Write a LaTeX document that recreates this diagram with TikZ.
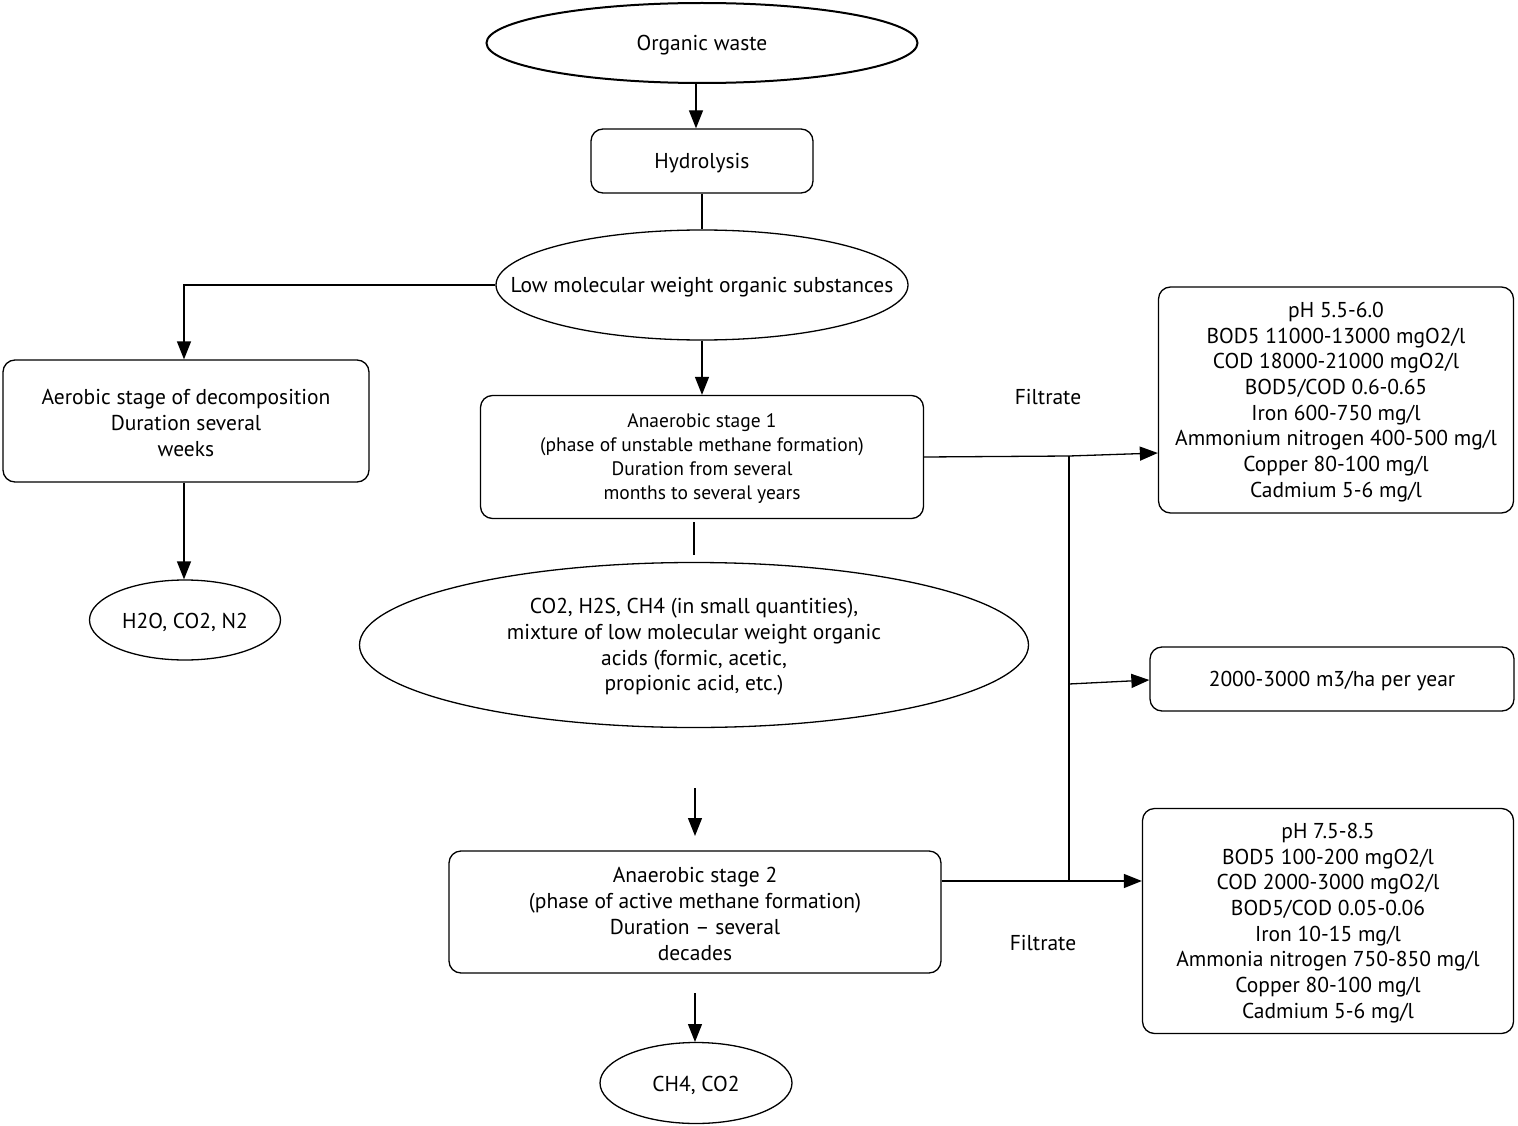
\documentclass[tikz,border=0pt]{standalone}
\usepackage{fontspec}
\setmainfont{PT Sans}
\usetikzlibrary{shapes.geometric,arrows.meta,calc}
\begin{document}
\begin{tikzpicture}[x=1pt,y=-1pt, line width=1.3pt,
  font=\fontsize{21.5}{25.7}\selectfont,
  box/.style={draw, rounded corners=12pt, align=center, inner sep=0pt},
  ell/.style={draw, ellipse, inner sep=0pt},
  txt/.style={align=center, inner sep=0pt, yshift=-2pt},
  arr/.style={-{Triangle[length=18pt,width=14pt]}},
  lbl/.style={inner sep=0pt}]
\useasboundingbox (0,0) rectangle (1518,1126);
% nodes
\node[ell, line width=2pt, minimum width=431pt, minimum height=80pt] (ow) at (702,43) {};
\node[txt] (owt) at (ow) {Organic waste};
\node[box, minimum width=222pt, minimum height=64pt] (hy) at (702,161) {};
\node[txt] (hyt) at (hy) {Hydrolysis};
\node[ell, minimum width=412pt, minimum height=110pt] (lm) at (702,285) {};
\node[txt] (lmt) at (lm) {Low molecular weight organic substances};
\node[box, minimum width=366pt, minimum height=122pt] (ae) at (186,421) {};
\node[txt] (aet) at (ae) {Aerobic stage of decomposition\\Duration several\\weeks};
\node[ell, minimum width=191pt, minimum height=80pt] (h2o) at (185,620) {};
\node[txt] (h2ot) at (h2o) {H2O, CO2, N2};
\node[box, minimum width=443pt, minimum height=123pt] (an1) at (702,457) {};
\node[txt, font=\fontsize{19.5}{24}\selectfont] (an1t) at (an1) {Anaerobic stage 1\\(phase of unstable methane formation)\\Duration from several\\months to several years};
\node[ell, minimum width=669pt, minimum height=165pt] (co2) at (694,645) {};
\node[txt] (co2t) at (co2) {CO2, H2S, CH4 (in small quantities),\\mixture of low molecular weight organic\\acids (formic, acetic,\\propionic acid, etc.)};
\node[box, minimum width=492pt, minimum height=122pt] (an2) at (695,912) {};
\node[txt] (an2t) at (an2) {Anaerobic stage 2\\(phase of active methane formation)\\Duration -- several\\decades};
\node[ell, minimum width=192pt, minimum height=81pt] (ch4) at (696,1083) {};
\node[txt] (ch4t) at (ch4) {CH4, CO2};
\node[box, minimum width=355pt, minimum height=226pt] (b1) at (1336,400) {};
\node[txt] (b1t) at (b1) {pH 5.5-6.0\\BOD5 11000-13000 mgO2/l\\COD 18000-21000 mgO2/l\\BOD5/COD 0.6-0.65\\Iron 600-750 mg/l\\Ammonium nitrogen 400-500 mg/l\\Copper 80-100 mg/l\\Cadmium 5-6 mg/l};
\node[box, minimum width=364pt, minimum height=64pt] (b2) at (1332,679) {};
\node[txt] (b2t) at (b2) {2000-3000 m3/ha per year};
\node[box, minimum width=371pt, minimum height=225pt] (b3) at (1328,921) {};
\node[txt] (b3t) at (b3) {pH 7.5-8.5\\BOD5 100-200 mgO2/l\\COD 2000-3000 mgO2/l\\BOD5/COD 0.05-0.06\\Iron 10-15 mg/l\\Ammonia nitrogen 750-850 mg/l\\Copper 80-100 mg/l\\Cadmium 5-6 mg/l};
\node[lbl] (f1) at (1048,397) {Filtrate};
\node[lbl] (f2) at (1043,943) {Filtrate};
% coordinates
\coordinate (s1a) at (694,522);
\coordinate (s1b) at (694,555);
\coordinate (s2a) at (695,788);
\coordinate (s2b) at (695,836);
\coordinate (s3a) at (695,993);
\coordinate (s3b) at (695,1042);
\coordinate (jt) at (1069,456);
\coordinate (jm) at (1069,684);
\coordinate (jb) at (1069,881);
% connectors
\draw[arr] ([xshift=-6pt]ow.south) -- ([xshift=-6pt]hy.north);
\draw (hy.south) -- (lm.north);
\draw[arr] (lm.west) -| ([xshift=-2pt]ae.north);
\draw[arr] ([xshift=-2pt]ae.south) -- ([xshift=-1pt]h2o.north);
\draw[arr] (lm.south) -- (an1.north);
\draw (s1a) -- (s1b);
\draw[arr] (s2a) -- (s2b);
\draw[arr] (s3a) -- (s3b);
\draw[arr] (an1.east) -- (jt) -- ([yshift=-53pt]b1.west);
\draw (jt) -- (jb);
\draw[arr] (jm) -- ([yshift=-1pt]b2.west);
\draw[arr] ([yshift=31pt]an2.east) -- (jb) -- ([yshift=40pt]b3.west);
\end{tikzpicture}
\end{document}
